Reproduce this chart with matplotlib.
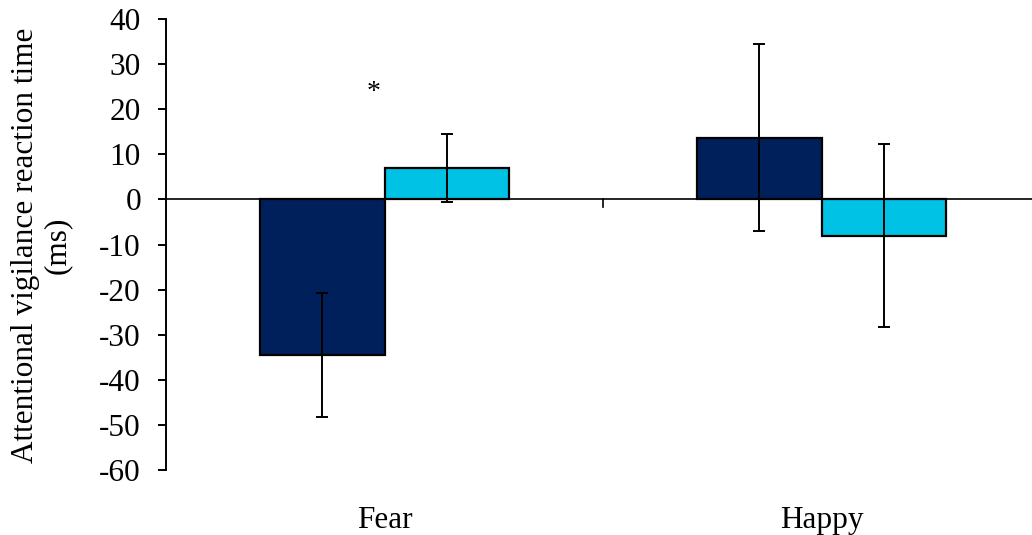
import numpy as np
import matplotlib
matplotlib.use('Agg')
import matplotlib.pyplot as plt

# values
categories = ['Fear', 'Happy']
series_a = [-34.5, 13.7]     # dark bars
series_a_err = [13.7, 20.8]
series_b = [6.9, -8.1]       # light bars
series_b_err = [7.5, 20.3]
y_ticks = [-60, -50, -40, -30, -20, -10, 0, 10, 20, 30, 40]
ylabel = 'Attentional vigilance reaction time\n(ms)'

font = {'family': 'Liberation Serif', 'size': 22.5}
matplotlib.rc('font', **font)
matplotlib.rcParams['axes.unicode_minus'] = False

fig = plt.figure(figsize=(10.32, 5.35), dpi=100)
# axes: left edge at x=166px, y from 19px (40) to 470px (-60); right edge beyond the figure
ax = fig.add_axes([166 / 1032, 1 - 470 / 535, (1040 - 166) / 1032, (470 - 19) / 535])

x = np.arange(len(categories))
w = 0.286
ax.bar(x - w / 2, series_a, w, color='#00205B', edgecolor='black', linewidth=1.6, zorder=2)
ax.bar(x + w / 2, series_b, w, color='#00C2E4', edgecolor='black', linewidth=1.6, zorder=2)
ax.errorbar(x - w / 2, series_a, yerr=series_a_err, fmt='none', ecolor='black',
            elinewidth=1.4, capsize=4.3, capthick=1.4, zorder=3)
ax.errorbar(x + w / 2, series_b, yerr=series_b_err, fmt='none', ecolor='black',
            elinewidth=1.4, capsize=4.3, capthick=1.4, zorder=3)

# zero line acts as the category axis
ax.axhline(0, color='black', linewidth=1.2, zorder=1)
ax.plot([0.5, 0.5], [0, -1.7], color='black', linewidth=1.2, zorder=1)

ax.text(-0.026, 23.7, '*', ha='center', va='center', fontsize=20)

ax.set_xlim(-0.5, 1.5)
ax.set_ylim(-60, 40)
ax.set_yticks(y_ticks)
ax.set_xticks([])
for s in ['top', 'right', 'bottom']:
    ax.spines[s].set_visible(False)
ax.spines['left'].set_linewidth(1.4)
ax.tick_params(axis='y', direction='out', length=6, width=1.4, pad=12)

for i, c in enumerate(categories):
    ax.text(x[i], -71.3, c, ha='center', va='center')

fig.text(0.04, 1 - 245 / 535, ylabel, rotation=90, ha='center', va='center',
         multialignment='center', linespacing=1.15)

fig.savefig('out.png', dpi=100)
